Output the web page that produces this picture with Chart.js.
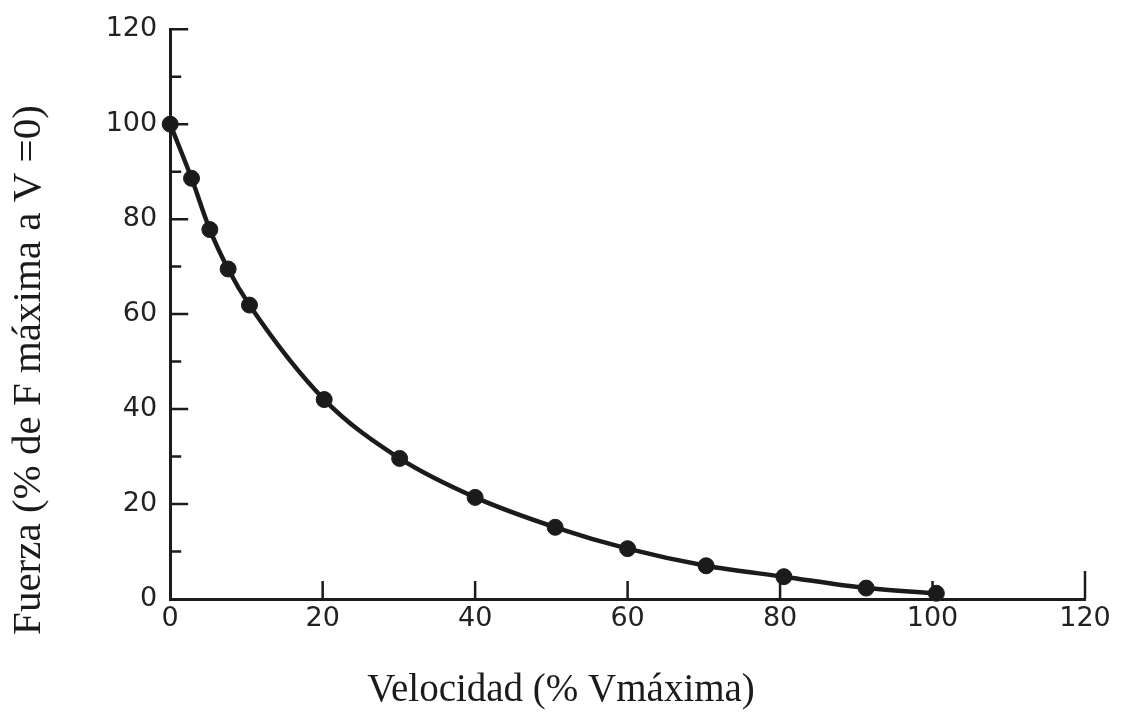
<!DOCTYPE html>
<html>
<head>
<meta charset="utf-8">
<script src="https://cdn.jsdelivr.net/npm/chart.js@4/dist/chart.umd.min.js"></script>
<style>
  body { margin: 0; background: #fff; }
  #wrap { width: 1122px; height: 715px; }
</style>
</head>
<body>
<div id="wrap"><canvas id="forceChart" width="1122" height="715"></canvas></div>
<script>
// values
const velocity = [0, 2.8, 5.2, 7.6, 10.4, 20.2, 30.1, 40, 50.5, 60, 70.3, 80.5, 91.3, 100.5]
const force = [100, 88.6, 77.8, 69.5, 61.9, 42.0, 29.6, 21.4, 15.1, 10.6, 7.0, 4.7, 2.3, 1.2]

const xTitle = 'Velocidad (% Vmáxima)'
const yTitle = 'Fuerza (% de F máxima a V =0)'

const ink = '#1b1b1b'

// inward tick marks, like the printed figure
const innerTicks = {
    id: 'innerTicks',
    beforeDatasetsDraw(chart) {
        const { ctx, scales: { x, y } } = chart
        ctx.save()
        ctx.strokeStyle = ink
        ctx.lineWidth = 2.5
        ctx.beginPath()
        for (let v = 10; v <= 120; v += 10) {
            const py = y.getPixelForValue(v)
            const len = v % 20 === 0 ? 18 : 11
            ctx.moveTo(x.left, py)
            ctx.lineTo(x.left + len, py)
        }
        for (let v = 20; v <= 120; v += 20) {
            const px = x.getPixelForValue(v)
            const len = v === 120 ? 28 : 18
            ctx.moveTo(px, y.bottom)
            ctx.lineTo(px, y.bottom - len)
        }
        ctx.stroke()
        ctx.restore()
    }
}

const tickFont = { family: 'DejaVu Sans', size: 27 }

new Chart('forceChart', {
    type: 'scatter',
    data: {
        datasets: [{
            data: velocity.map((v, i) => ({ x: v, y: force[i] })),
            showLine: true,
            borderColor: ink,
            backgroundColor: ink,
            borderWidth: 4.5,
            pointRadius: 8,
            pointBorderWidth: 1,
            pointBorderColor: ink,
            tension: 0.4,
            cubicInterpolationMode: 'monotone',
            clip: false
        }]
    },
    options: {
        responsive: false,
        animation: false,
        layout: { padding: { top: 25, right: 0, left: 0, bottom: 0 } },
        plugins: {
            legend: { display: false },
            tooltip: { enabled: false },
            title: {
                display: true,
                text: yTitle,
                position: 'left',
                color: ink,
                font: { family: 'Liberation Serif', size: 41, weight: 'normal' },
                padding: { top: 5, bottom: 0 }
            },
            subtitle: {
                display: true,
                text: xTitle,
                position: 'bottom',
                color: ink,
                font: { family: 'Liberation Serif', size: 39, weight: 'normal' },
                padding: { top: 0, bottom: 1 }
            }
        },
        scales: {
            x: {
                type: 'linear',
                min: 0,
                max: 120,
                border: { display: true, color: ink, width: 3 },
                grid: { display: false, drawTicks: false },
                ticks: { stepSize: 20, color: '#222', font: tickFont, padding: 4, maxRotation: 0 },
                afterFit(scale) {
                    scale.height = 68.2
                    scale.paddingRight = 37
                }
            },
            y: {
                min: 0,
                max: 120,
                border: { display: true, color: ink, width: 3 },
                grid: { display: false, drawTicks: false },
                ticks: { stepSize: 20, color: '#222', font: tickFont, padding: 13 },
                afterFit(scale) { scale.width = 116 }
            }
        }
    },
    plugins: [innerTicks]
})
</script>
</body>
</html>
